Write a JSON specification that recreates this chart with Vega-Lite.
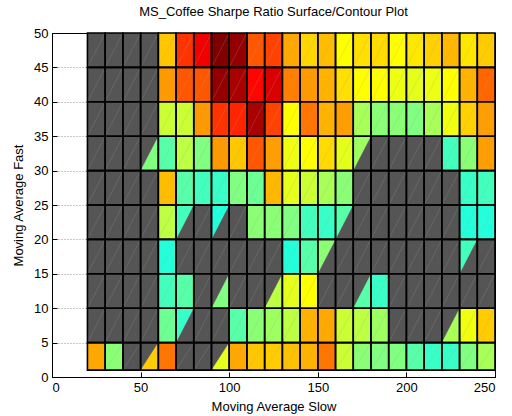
{
"$schema": "https://vega.github.io/schema/vega-lite/v6.json",
"width": 443, "height": 344,
"autosize": {"type": "none"},
"padding": {"left": 52, "top": 33, "right": 17, "bottom": 39},
"background": "white",
"title": {"text": "MS_Coffee Sharpe Ratio Surface/Contour Plot", "font": "Liberation Sans", "fontSize": 13, "fontWeight": "normal", "color": "black", "offset": 8, "anchor": "middle"},
"config": {
  "view": {"stroke": "black", "strokeWidth": 1},
  "axis": {"labelFont": "Liberation Sans", "titleFont": "Liberation Sans", "labelFontSize": 13, "titleFontSize": 13, "titleFontWeight": "normal", "labelColor": "black", "titleColor": "black", "domainColor": "black", "tickColor": "black", "gridColor": "#888888", "gridDash": [1, 2], "gridOpacity": 0.9}
},
"datasets": {
"cells": [
{"s":20,"f":45,"v":null},{"s":30,"f":45,"v":null},{"s":40,"f":45,"v":null},{"s":50,"f":45,"v":null},{"s":60,"f":45,"v":0.68},{"s":70,"f":45,"v":0.825},{"s":80,"f":45,"v":0.89},{"s":90,"f":45,"v":1.0},{"s":100,"f":45,"v":0.98},{"s":110,"f":45,"v":0.79},{"s":120,"f":45,"v":0.81},{"s":130,"f":45,"v":0.71},{"s":140,"f":45,"v":0.665},{"s":150,"f":45,"v":0.69},{"s":160,"f":45,"v":0.625},{"s":170,"f":45,"v":0.655},{"s":180,"f":45,"v":0.66},{"s":190,"f":45,"v":0.625},{"s":200,"f":45,"v":0.648},{"s":210,"f":45,"v":0.67},{"s":220,"f":45,"v":0.695},{"s":230,"f":45,"v":0.648},{"s":240,"f":45,"v":0.675},
{"s":20,"f":40,"v":null},{"s":30,"f":40,"v":null},{"s":40,"f":40,"v":null},{"s":50,"f":40,"v":null},{"s":60,"f":40,"v":0.725},{"s":70,"f":40,"v":0.79},{"s":80,"f":40,"v":0.79},{"s":90,"f":40,"v":0.98},{"s":100,"f":40,"v":0.96},{"s":110,"f":40,"v":0.87},{"s":120,"f":40,"v":0.91},{"s":130,"f":40,"v":0.75},{"s":140,"f":40,"v":0.725},{"s":150,"f":40,"v":0.7},{"s":160,"f":40,"v":0.655},{"s":170,"f":40,"v":0.625},{"s":180,"f":40,"v":0.625},{"s":190,"f":40,"v":0.607},{"s":200,"f":40,"v":0.6},{"s":210,"f":40,"v":0.607},{"s":220,"f":40,"v":0.625},{"s":230,"f":40,"v":0.7},{"s":240,"f":40,"v":0.775},
{"s":20,"f":35,"v":null},{"s":30,"f":35,"v":null},{"s":40,"f":35,"v":null},{"s":50,"f":35,"v":null},{"s":60,"f":35,"v":0.575},{"s":70,"f":35,"v":0.575},{"s":80,"f":35,"v":0.725},{"s":90,"f":35,"v":0.825},{"s":100,"f":35,"v":0.84},{"s":110,"f":35,"v":0.96},{"s":120,"f":35,"v":0.81},{"s":130,"f":35,"v":0.625},{"s":140,"f":35,"v":0.76},{"s":150,"f":35,"v":0.7},{"s":160,"f":35,"v":0.72},{"s":170,"f":35,"v":0.54},{"s":180,"f":35,"v":0.51},{"s":190,"f":35,"v":0.51},{"s":200,"f":35,"v":0.5},{"s":210,"f":35,"v":0.54},{"s":220,"f":35,"v":0.61},{"s":230,"f":35,"v":0.67},{"s":240,"f":35,"v":0.72},
{"s":20,"f":30,"v":null},{"s":30,"f":30,"v":null},{"s":40,"f":30,"v":null},{"s":50,"f":30,"v":null},{"s":60,"f":30,"v":0.46},{"s":70,"f":30,"v":0.56},{"s":80,"f":30,"v":0.5},{"s":90,"f":30,"v":0.725},{"s":100,"f":30,"v":0.68},{"s":110,"f":30,"v":0.79},{"s":120,"f":30,"v":0.72},{"s":130,"f":30,"v":0.61},{"s":140,"f":30,"v":0.625},{"s":150,"f":30,"v":0.66},{"s":160,"f":30,"v":0.6},{"s":170,"f":30,"v":null},{"s":180,"f":30,"v":null},{"s":190,"f":30,"v":null},{"s":200,"f":30,"v":null},{"s":210,"f":30,"v":null},{"s":220,"f":30,"v":0.44},{"s":230,"f":30,"v":0.51},{"s":240,"f":30,"v":0.72},
{"s":20,"f":25,"v":null},{"s":30,"f":25,"v":null},{"s":40,"f":25,"v":null},{"s":50,"f":25,"v":null},{"s":60,"f":25,"v":0.69},{"s":70,"f":25,"v":0.46},{"s":80,"f":25,"v":0.44},{"s":90,"f":25,"v":0.43},{"s":100,"f":25,"v":0.5},{"s":110,"f":25,"v":0.48},{"s":120,"f":25,"v":0.695},{"s":130,"f":25,"v":0.6},{"s":140,"f":25,"v":0.575},{"s":150,"f":25,"v":0.54},{"s":160,"f":25,"v":0.51},{"s":170,"f":25,"v":null},{"s":180,"f":25,"v":null},{"s":190,"f":25,"v":null},{"s":200,"f":25,"v":null},{"s":210,"f":25,"v":null},{"s":220,"f":25,"v":null},{"s":230,"f":25,"v":0.43},{"s":240,"f":25,"v":0.44},
{"s":20,"f":20,"v":null},{"s":30,"f":20,"v":null},{"s":40,"f":20,"v":null},{"s":50,"f":20,"v":null},{"s":60,"f":20,"v":0.56},{"s":70,"f":20,"v":null},{"s":80,"f":20,"v":null},{"s":90,"f":20,"v":null},{"s":100,"f":20,"v":null},{"s":110,"f":20,"v":0.51},{"s":120,"f":20,"v":0.51},{"s":130,"f":20,"v":0.5},{"s":140,"f":20,"v":0.44},{"s":150,"f":20,"v":0.43},{"s":160,"f":20,"v":null},{"s":170,"f":20,"v":null},{"s":180,"f":20,"v":null},{"s":190,"f":20,"v":null},{"s":200,"f":20,"v":null},{"s":210,"f":20,"v":null},{"s":220,"f":20,"v":null},{"s":230,"f":20,"v":0.41},{"s":240,"f":20,"v":0.41},
{"s":20,"f":15,"v":null},{"s":30,"f":15,"v":null},{"s":40,"f":15,"v":null},{"s":50,"f":15,"v":null},{"s":60,"f":15,"v":0.41},{"s":70,"f":15,"v":null},{"s":80,"f":15,"v":null},{"s":90,"f":15,"v":null},{"s":100,"f":15,"v":null},{"s":110,"f":15,"v":null},{"s":120,"f":15,"v":null},{"s":130,"f":15,"v":0.41},{"s":140,"f":15,"v":0.46},{"s":150,"f":15,"v":null},{"s":160,"f":15,"v":null},{"s":170,"f":15,"v":null},{"s":180,"f":15,"v":null},{"s":190,"f":15,"v":null},{"s":200,"f":15,"v":null},{"s":210,"f":15,"v":null},{"s":220,"f":15,"v":null},{"s":230,"f":15,"v":null},{"s":240,"f":15,"v":null},
{"s":20,"f":10,"v":null},{"s":30,"f":10,"v":null},{"s":40,"f":10,"v":null},{"s":50,"f":10,"v":null},{"s":60,"f":10,"v":0.44},{"s":70,"f":10,"v":0.46},{"s":80,"f":10,"v":null},{"s":90,"f":10,"v":null},{"s":100,"f":10,"v":null},{"s":110,"f":10,"v":null},{"s":120,"f":10,"v":null},{"s":130,"f":10,"v":0.6},{"s":140,"f":10,"v":0.625},{"s":150,"f":10,"v":null},{"s":160,"f":10,"v":null},{"s":170,"f":10,"v":null},{"s":180,"f":10,"v":0.43},{"s":190,"f":10,"v":null},{"s":200,"f":10,"v":null},{"s":210,"f":10,"v":null},{"s":220,"f":10,"v":null},{"s":230,"f":10,"v":null},{"s":240,"f":10,"v":null},
{"s":20,"f":5,"v":null},{"s":30,"f":5,"v":null},{"s":40,"f":5,"v":null},{"s":50,"f":5,"v":null},{"s":60,"f":5,"v":0.48},{"s":70,"f":5,"v":null},{"s":80,"f":5,"v":null},{"s":90,"f":5,"v":null},{"s":100,"f":5,"v":0.46},{"s":110,"f":5,"v":0.51},{"s":120,"f":5,"v":0.53},{"s":130,"f":5,"v":0.56},{"s":140,"f":5,"v":0.7},{"s":150,"f":5,"v":0.71},{"s":160,"f":5,"v":0.575},{"s":170,"f":5,"v":0.56},{"s":180,"f":5,"v":0.53},{"s":190,"f":5,"v":null},{"s":200,"f":5,"v":null},{"s":210,"f":5,"v":null},{"s":220,"f":5,"v":null},{"s":230,"f":5,"v":0.61},{"s":240,"f":5,"v":0.675},
{"s":20,"f":1,"v":0.71},{"s":30,"f":1,"v":0.51},{"s":40,"f":1,"v":null},{"s":50,"f":1,"v":null},{"s":60,"f":1,"v":0.76},{"s":70,"f":1,"v":null},{"s":80,"f":1,"v":null},{"s":90,"f":1,"v":null},{"s":100,"f":1,"v":0.71},{"s":110,"f":1,"v":0.68},{"s":120,"f":1,"v":0.675},{"s":130,"f":1,"v":0.685},{"s":140,"f":1,"v":0.7},{"s":150,"f":1,"v":0.76},{"s":160,"f":1,"v":0.575},{"s":170,"f":1,"v":0.51},{"s":180,"f":1,"v":0.5},{"s":190,"f":1,"v":0.5},{"s":200,"f":1,"v":0.46},{"s":210,"f":1,"v":0.43},{"s":220,"f":1,"v":0.43},{"s":230,"f":1,"v":0.5},{"s":240,"f":1,"v":0.54}
],
"tris": [
{"id":1,"s":50,"lo":30,"hi":30,"v":0.5},{"id":1,"s":60,"lo":30,"hi":35,"v":0.5},
{"id":2,"s":170,"lo":30,"hi":35,"v":0.53},{"id":2,"s":180,"lo":35,"hi":35,"v":0.53},
{"id":3,"s":70,"lo":20,"hi":25,"v":0.44},{"id":3,"s":80,"lo":25,"hi":25,"v":0.44},
{"id":4,"s":90,"lo":20,"hi":25,"v":0.41},{"id":4,"s":100,"lo":25,"hi":25,"v":0.41},
{"id":5,"s":160,"lo":20,"hi":25,"v":0.46},{"id":5,"s":170,"lo":25,"hi":25,"v":0.46},
{"id":6,"s":150,"lo":15,"hi":20,"v":0.51},{"id":6,"s":160,"lo":20,"hi":20,"v":0.51},
{"id":7,"s":230,"lo":15,"hi":20,"v":0.44},{"id":7,"s":240,"lo":20,"hi":20,"v":0.44},
{"id":8,"s":90,"lo":10,"hi":10,"v":0.5},{"id":8,"s":100,"lo":10,"hi":15,"v":0.5},
{"id":9,"s":120,"lo":10,"hi":10,"v":0.56},{"id":9,"s":130,"lo":10,"hi":15,"v":0.56},
{"id":10,"s":170,"lo":10,"hi":10,"v":0.46},{"id":10,"s":180,"lo":10,"hi":15,"v":0.46},
{"id":11,"s":70,"lo":5,"hi":10,"v":0.43},{"id":11,"s":80,"lo":10,"hi":10,"v":0.43},
{"id":12,"s":220,"lo":5,"hi":5,"v":0.54},{"id":12,"s":230,"lo":5,"hi":10,"v":0.54},
{"id":13,"s":50,"lo":1,"hi":1,"v":0.675},{"id":13,"s":60,"lo":1,"hi":5,"v":0.675},
{"id":14,"s":90,"lo":1,"hi":1,"v":0.6},{"id":14,"s":100,"lo":1,"hi":5,"v":0.6}
]
},
"layer": [
{
  "data": {"name": "cells"},
  "transform": [{"calculate": "datum.s + 10", "as": "s2"}, {"calculate": "datum.f == 1 ? 5 : datum.f + 5", "as": "f2"}],
  "mark": {"type": "rect", "color": "#555555", "strokeWidth": 0},
  "encoding": {
    "x": {"field": "s", "type": "quantitative", "scale": {"domain": [0, 250], "nice": false, "zero": false},
          "axis": {"values": [0, 50, 100, 150, 200, 250], "title": "Moving Average Slow", "grid": true, "tickSize": -5, "labelPadding": 9, "titlePadding": 6}},
    "x2": {"field": "s2"},
    "y": {"field": "f", "type": "quantitative", "scale": {"domain": [0, 50], "nice": false, "zero": false},
          "axis": {"values": [0, 5, 10, 15, 20, 25, 30, 35, 40, 45, 50], "title": "Moving Average Fast", "grid": true, "tickSize": -5, "labelPadding": 9, "titlePadding": 8}},
    "y2": {"field": "f2"}
  }
},
{
  "data": {"name": "cells"},
  "transform": [{"filter": "datum.v != null"}, {"calculate": "datum.s + 10", "as": "s2"}, {"calculate": "datum.f == 1 ? 5 : datum.f + 5", "as": "f2"}],
  "mark": {"type": "rect", "strokeWidth": 0},
  "encoding": {
    "x": {"field": "s", "type": "quantitative", "axis": null},
    "x2": {"field": "s2"},
    "y": {"field": "f", "type": "quantitative", "axis": null},
    "y2": {"field": "f2"},
    "color": {"field": "v", "type": "quantitative", "legend": null,
              "scale": {"type": "linear", "domain": [0.375, 0.625, 0.875, 1], "range": ["#00ffff", "#ffff00", "#ff0000", "#800000"], "interpolate": "rgb", "zero": false}}
  }
},
{
  "data": {"name": "tris"},
  "mark": {"type": "area", "strokeWidth": 0},
  "encoding": {
    "x": {"field": "s", "type": "quantitative", "axis": null},
    "y": {"field": "lo", "type": "quantitative", "axis": null},
    "y2": {"field": "hi"},
    "detail": {"field": "id", "type": "nominal"},
    "color": {"field": "v", "type": "quantitative", "legend": null,
              "scale": {"type": "linear", "domain": [0.375, 0.625, 0.875, 1], "range": ["#00ffff", "#ffff00", "#ff0000", "#800000"], "interpolate": "rgb", "zero": false}}
  }
},
{
  "data": {"name": "cells"},
  "transform": [{"calculate": "datum.s + 10", "as": "s2"}, {"calculate": "datum.f == 1 ? 5 : datum.f + 5", "as": "f2"}],
  "mark": {"type": "rule", "color": "#a0a0a0", "opacity": 0.4, "strokeWidth": 0.6},
  "encoding": {
    "x": {"field": "s", "type": "quantitative", "axis": null},
    "x2": {"field": "s2"},
    "y": {"field": "f", "type": "quantitative", "axis": null},
    "y2": {"field": "f2"}
  }
},
{
  "data": {"name": "cells"},
  "transform": [{"calculate": "datum.s + 10", "as": "s2"}, {"calculate": "datum.f == 1 ? 5 : datum.f + 5", "as": "f2"}],
  "mark": {"type": "rect", "filled": false, "stroke": "black", "strokeWidth": 1.6},
  "encoding": {
    "x": {"field": "s", "type": "quantitative",
          "axis": {"orient": "top", "values": [0, 50, 100, 150, 200, 250], "labels": false, "title": null, "grid": false, "tickSize": -5}},
    "x2": {"field": "s2"},
    "y": {"field": "f", "type": "quantitative",
          "axis": {"orient": "right", "values": [0, 5, 10, 15, 20, 25, 30, 35, 40, 45, 50], "labels": false, "title": null, "grid": false, "tickSize": -5}},
    "y2": {"field": "f2"}
  }
}
],
"resolve": {"axis": {"x": "independent", "y": "independent"}}
}
